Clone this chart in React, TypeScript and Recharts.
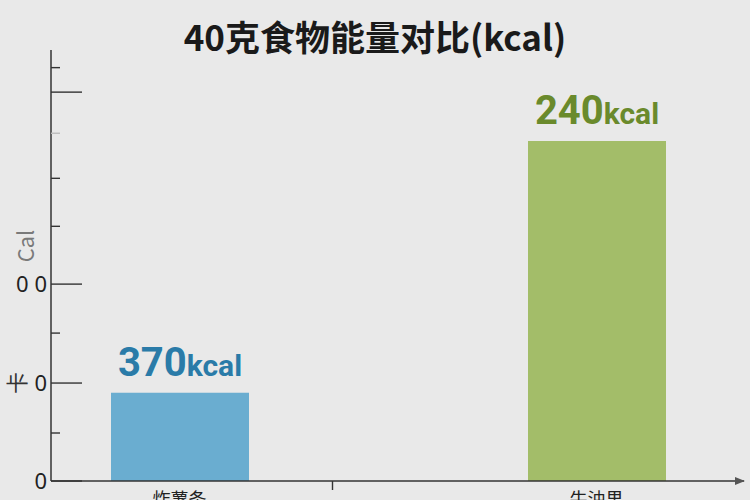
import { BarChart, Bar, XAxis, YAxis, Cell, LabelList } from 'recharts';

const foods = ['炸薯条', '', '', '牛油果'];
// bar heights as drawn, read against the y-axis ticks
const barHeights = [90, null, null, 347];
// value labels printed above the bars
const kcalValues = [370, null, null, 240];
const barColors = ['#6aadd0', '', '', '#a3bd69'];
const labelColors = ['#2a7ba8', '', '', '#6a8a2c'];

const yTicks = [0, 49, 100, 151, 201, 260, 309, 355, 397, 422];
const yMajorTicks = [0, 100, 201, 397];
const yTickLabels: Record<number, string> = { 0: '0', 100: '0', 201: '0 0' };

const data = foods.map((food, i) => ({
  food,
  height: barHeights[i],
  kcal: kcalValues[i],
}));

function YTick(props: any) {
  const { x, y, payload } = props;
  const major = yMajorTicks.includes(payload.value);
  const faint = payload.value === 355;
  const label = yTickLabels[payload.value];
  return (
    <g>
      <line
        x1={x}
        x2={x + (major ? 31 : 9)}
        y1={y}
        y2={y}
        stroke={faint ? '#bdbdbd' : '#333'}
        strokeWidth={1.4}
      />
      {label && (
        <text
          x={x - 4}
          y={y + 8}
          textAnchor="end"
          fontSize={22}
          fontFamily="'Noto Sans', sans-serif"
          fill="#222"
        >
          {label}
        </text>
      )}
    </g>
  );
}

function XTick(props: any) {
  const { x, y, payload, index } = props;
  if (index === 1) {
    return <line x1={x + 14} x2={x + 14} y1={y} y2={y + 9} stroke="#333" strokeWidth={1.4} />;
  }
  if (!payload.value) return <g />;
  return (
    <text
      x={x}
      y={y + 25}
      textAnchor="middle"
      fontSize={18}
      fontFamily="'Noto Sans CJK SC', sans-serif"
      fill="#222"
    >
      {payload.value}
    </text>
  );
}

function ValueLabel(props: any) {
  const { x, y, width, value } = props;
  if (value == null) return null;
  const i = kcalValues.indexOf(value);
  return (
    <text
      x={x + width / 2}
      y={y - 17}
      textAnchor="middle"
      fontFamily="Roboto, sans-serif"
      fontWeight={700}
      fill={labelColors[i]}
    >
      <tspan fontSize={40}>{value}</tspan>
      <tspan fontSize={30}>kcal</tspan>
    </text>
  );
}

function YAxisTitle() {
  return (
    <g fontFamily="'Noto Sans CJK SC', sans-serif" fontSize={22}>
      <text x={27} y={246} textAnchor="middle" fill="#7a7a7a" transform="rotate(-90 27 246)" dy={7}>
        Cal
      </text>
      <text x={18} y={383} textAnchor="middle" fill="#333" transform="rotate(-90 18 383)" dy={7}>
        卡
      </text>
    </g>
  );
}

export default function App() {
  return (
    <div
      style={{
        position: 'fixed',
        left: 0,
        top: 0,
        width: 750,
        height: 500,
        background: '#e9e9e9',
        overflow: 'hidden',
      }}
    >
      <div
        style={{
          position: 'absolute',
          left: 0,
          top: 12,
          width: 750,
          textAlign: 'center',
          fontFamily: "'Noto Sans CJK SC', sans-serif",
          fontWeight: 700,
          fontSize: 35,
          lineHeight: '48px',
          color: '#1a1a1a',
        }}
      >
        40克食物能量对比(kcal)
      </div>
      <BarChart
        width={750}
        height={500}
        data={data}
        margin={{ top: 50, right: 6, bottom: 0, left: 0 }}
        barCategoryGap={0}
        style={{ position: 'absolute', left: 0, top: 0 }}
      >
        <defs>
          <marker id="xArrow" viewBox="0 0 10 10" refX="9" refY="5" markerWidth="7" markerHeight="7" orient="auto">
            <path d="M0,1 L10,5 L0,9 Z" fill="#555" />
          </marker>
        </defs>
        <XAxis
          dataKey="food"
          height={19}
          padding={{ left: 59, right: 78 }}
          axisLine={{ stroke: '#333', strokeWidth: 1.5, markerEnd: 'url(#xArrow)' }}
          tickLine={false}
          tickSize={0}
          tickMargin={0}
          interval={0}
          tick={<XTick />}
        />
        <YAxis
          width={51}
          domain={[0, 440]}
          ticks={yTicks}
          interval={0}
          axisLine={{ stroke: '#333', strokeWidth: 1.5 }}
          tickLine={false}
          tickSize={0}
          tickMargin={0}
          tick={<YTick />}
          label={{ content: <YAxisTitle /> }}
        />
        <Bar dataKey="height" barSize={138} isAnimationActive={false}>
          {data.map((d, i) => (
            <Cell key={d.food + i} fill={barColors[i]} />
          ))}
          <LabelList dataKey="kcal" content={<ValueLabel />} />
        </Bar>
      </BarChart>
    </div>
  );
}
